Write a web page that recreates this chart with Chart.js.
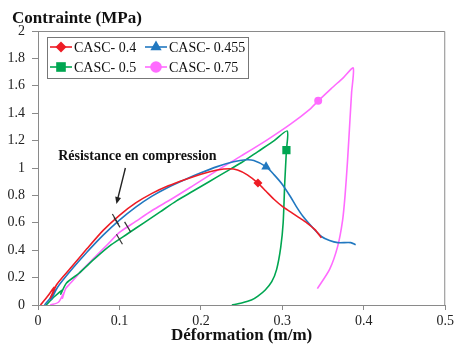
<!DOCTYPE html>
<html>
<head>
<meta charset="utf-8">
<script src="https://cdn.jsdelivr.net/npm/chart.js@4.4.1/dist/chart.umd.min.js"></script>
<style>
  html, body { margin: 0; padding: 0; background: #fff; }
  #wrap { width: 457px; height: 344px; position: relative; }
</style>
</head>
<body>
<div id="wrap"><canvas id="c"></canvas></div>
<script>
// Compression tests: stress (MPa) versus strain (m/m) for four CASC mixes
const seriesNames = ['CASC- 0.4', 'CASC- 0.455', 'CASC- 0.5', 'CASC- 0.75'];
const seriesColors = ['#EE1C25', '#2178C0', '#00A651', '#FF6BFF'];
const markerStyles = ['rectRot', 'triangle', 'rect', 'circle'];

const strain04 = [0.003, 0.012, 0.02, 0.018, 0.015, 0.017, 0.023, 0.04, 0.06, 0.08, 0.1, 0.12, 0.14, 0.16, 0.18, 0.2, 0.22, 0.235, 0.245, 0.257, 0.27, 0.28, 0.29, 0.3, 0.31, 0.32, 0.33, 0.34, 0.348];
const stress04 = [0, 0.065, 0.13, 0.09, 0.05, 0.07, 0.15, 0.27, 0.41, 0.545, 0.655, 0.745, 0.815, 0.87, 0.915, 0.955, 0.985, 0.995, 0.985, 0.95, 0.89, 0.83, 0.77, 0.72, 0.68, 0.64, 0.6, 0.55, 0.49];

const strain0455 = [0.008, 0.015, 0.021, 0.019, 0.016, 0.018, 0.024, 0.04, 0.06, 0.08, 0.1, 0.12, 0.14, 0.16, 0.18, 0.2, 0.22, 0.24, 0.255, 0.265, 0.28, 0.29, 0.3, 0.31, 0.317, 0.325, 0.338, 0.348, 0.358, 0.368, 0.384, 0.39];
const stress0455 = [0, 0.05, 0.11, 0.07, 0.04, 0.06, 0.13, 0.25, 0.385, 0.51, 0.62, 0.715, 0.795, 0.86, 0.915, 0.965, 1.01, 1.045, 1.06, 1.055, 1.01, 0.95, 0.88, 0.79, 0.72, 0.65, 0.56, 0.5, 0.47, 0.455, 0.455, 0.44];

const strain05 = [0.01, 0.02, 0.03, 0.028, 0.035, 0.05, 0.07, 0.09, 0.11, 0.13, 0.15, 0.17, 0.19, 0.21, 0.23, 0.25, 0.27, 0.29, 0.306, 0.305, 0.303, 0.301, 0.298, 0.293, 0.287, 0.279, 0.27, 0.262, 0.25, 0.238];
const stress05 = [0, 0.06, 0.11, 0.08, 0.16, 0.23, 0.34, 0.44, 0.52, 0.6, 0.68, 0.76, 0.83, 0.9, 0.97, 1.04, 1.12, 1.2, 1.27, 1.13, 0.9, 0.6, 0.42, 0.26, 0.17, 0.11, 0.065, 0.036, 0.015, 0];

const strain075 = [0.015, 0.025, 0.032, 0.03, 0.034, 0.04, 0.055, 0.07, 0.085, 0.1, 0.12, 0.14, 0.163, 0.19, 0.222, 0.25, 0.28, 0.31, 0.334, 0.344, 0.36, 0.375, 0.387, 0.385, 0.383, 0.38, 0.377, 0.374, 0.368, 0.358, 0.343];
const stress075 = [0, 0.02, 0.09, 0.05, 0.12, 0.16, 0.26, 0.35, 0.44, 0.53, 0.61, 0.69, 0.77, 0.87, 0.99, 1.09, 1.2, 1.32, 1.43, 1.49, 1.58, 1.66, 1.73, 1.55, 1.35, 1.05, 0.8, 0.62, 0.43, 0.26, 0.12];

// one highlighted marker per series
const markerStrain = [0.27, 0.28, 0.305, 0.344];
const markerStress = [0.89, 1.01, 1.13, 1.49];

// strain at which the compressive-strength tick is drawn across each curve
const strengthTickStrain = [0.095, 0.097, 0.1, 0.11];

const xTickValues = [0, 0.1, 0.2, 0.3, 0.4, 0.5];
const yTickValues = [0, 0.2, 0.4, 0.6, 0.8, 1, 1.2, 1.4, 1.6, 1.8, 2];

const strainSets = [strain04, strain0455, strain05, strain075];
const stressSets = [stress04, stress0455, stress05, stress075];

const SERIF = '"Liberation Serif", "DejaVu Serif", serif';

function zip(xs, ys) { return xs.map((x, i) => ({ x: x, y: ys[i] })); }

function stressAt(k, x) {
  const xs = strainSets[k], ys = stressSets[k];
  for (let i = 0; i < xs.length - 1; i++) {
    const a = xs[i], b = xs[i + 1];
    if ((x - a) * (x - b) <= 0 && a !== b && Math.min(a, b) > 0.03) {
      return ys[i] + (ys[i + 1] - ys[i]) * (x - a) / (b - a);
    }
  }
  return 0;
}

const datasets = [];
seriesNames.forEach((name, k) => {
  datasets.push({
    label: name,
    data: zip(strainSets[k], stressSets[k]),
    showLine: true,
    borderColor: seriesColors[k],
    backgroundColor: seriesColors[k],
    borderWidth: 1.6,
    pointRadius: 0,
    tension: 0.25,
    order: 2
  });
});
seriesNames.forEach((name, k) => {
  datasets.push({
    label: name + ' marker',
    data: [{ x: markerStrain[k], y: markerStress[k] }],
    showLine: false,
    pointStyle: markerStyles[k],
    pointRadius: [4.5, 5.5, 5.8, 4][k],
    borderWidth: 0,
    backgroundColor: seriesColors[k],
    borderColor: seriesColors[k],
    order: 1
  });
});

const decorations = {
  id: 'decorations',
  afterDatasetsDraw(chart) {
    const ctx = chart.ctx;
    const area = chart.chartArea;
    const xs = chart.scales.x, ys = chart.scales.y;

    // frame on top and right
    ctx.save();
    ctx.strokeStyle = '#8a8a8a';
    ctx.lineWidth = 1;
    ctx.beginPath();
    ctx.moveTo(area.left, area.top + 0.5);
    ctx.lineTo(area.right - 0.5, area.top + 0.5);
    ctx.lineTo(area.right - 0.5, area.bottom);
    ctx.stroke();

    // compressive strength ticks across the curves
    ctx.strokeStyle = '#333';
    ctx.lineWidth = 1.2;
    strengthTickStrain.forEach((sx, k) => {
      const px = xs.getPixelForValue(sx);
      const py = ys.getPixelForValue(stressAt(k, sx));
      ctx.beginPath();
      ctx.moveTo(px - 3, py - 5);
      ctx.lineTo(px + 3, py + 5);
      ctx.stroke();
    });

    // annotation with arrow
    ctx.fillStyle = '#111';
    ctx.font = 'bold 14px ' + SERIF;
    ctx.textAlign = 'center';
    ctx.textBaseline = 'middle';
    ctx.fillText('Résistance en compression', xs.getPixelForValue(0.122), ys.getPixelForValue(1.085));
    const ax0 = xs.getPixelForValue(0.1073), ay0 = ys.getPixelForValue(1.0);
    const ax1 = xs.getPixelForValue(0.0963), ay1 = ys.getPixelForValue(0.737);
    const ang = Math.atan2(ay1 - ay0, ax1 - ax0);
    ctx.strokeStyle = '#222';
    ctx.lineWidth = 1.4;
    ctx.beginPath();
    ctx.moveTo(ax0, ay0);
    ctx.lineTo(ax1 - 5 * Math.cos(ang), ay1 - 5 * Math.sin(ang));
    ctx.stroke();
    ctx.fillStyle = '#222';
    ctx.beginPath();
    ctx.moveTo(ax1, ay1);
    ctx.lineTo(ax1 - 7 * Math.cos(ang) + 3 * Math.sin(ang), ay1 - 7 * Math.sin(ang) - 3 * Math.cos(ang));
    ctx.lineTo(ax1 - 7 * Math.cos(ang) - 3 * Math.sin(ang), ay1 - 7 * Math.sin(ang) + 3 * Math.cos(ang));
    ctx.closePath();
    ctx.fill();

    // legend box
    const lx = area.left + 9, ly = area.top + 6;
    ctx.fillStyle = '#fff';
    ctx.fillRect(lx, ly, 201, 41);
    ctx.strokeStyle = '#777';
    ctx.lineWidth = 1;
    ctx.strokeRect(lx + 0.5, ly + 0.5, 201, 41);
    const colX = [area.left + 12, area.left + 107];
    const rowY = [area.top + 16, area.top + 36];
    const legendRadius = [5.5, 6.5, 6.8, 5.8];
    ctx.font = '14px ' + SERIF;
    ctx.textAlign = 'left';
    ctx.textBaseline = 'middle';
    seriesNames.forEach((name, k) => {
      const cx = colX[k % 2], cy = rowY[Math.floor(k / 2)];
      ctx.strokeStyle = seriesColors[k];
      ctx.lineWidth = 1.6;
      ctx.beginPath();
      ctx.moveTo(cx, cy);
      ctx.lineTo(cx + 22, cy);
      ctx.stroke();
      ctx.fillStyle = seriesColors[k];
      Chart.helpers.drawPoint(ctx, { pointStyle: markerStyles[k], radius: legendRadius[k], rotation: 0, borderWidth: 0 }, cx + 11, cy);
      ctx.fillStyle = '#111';
      ctx.fillText(name, cx + 24, cy + 1);
    });

    // axis titles
    ctx.fillStyle = '#111';
    ctx.font = 'bold 17px ' + SERIF;
    ctx.textAlign = 'left';
    ctx.textBaseline = 'alphabetic';
    ctx.fillText('Contrainte (MPa)', 12, 23);
    ctx.textAlign = 'center';
    ctx.textBaseline = 'middle';
    ctx.fillText('Déformation (m/m)', (area.left + area.right) / 2, 336);
    ctx.restore();
  }
};

new Chart(document.getElementById('c'), {
  type: 'scatter',
  data: { datasets: datasets },
  options: {
    responsive: true,
    maintainAspectRatio: false,
    animation: false,
    layout: { padding: { left: 0, top: 31, right: 9, bottom: 0 } },
    plugins: { legend: { display: false }, tooltip: { enabled: false } },
    scales: {
      x: {
        type: 'linear',
        min: 0, max: 0.5,
        afterFit(scale) { scale.height = 39; },
        afterBuildTicks(scale) { scale.ticks = xTickValues.map(v => ({ value: v })); },
        grid: { drawOnChartArea: false, tickLength: 5, color: '#8a8a8a' },
        border: { color: '#8a8a8a' },
        ticks: {
          padding: 3,
          color: '#222',
          font: { family: SERIF, size: 14 },
          callback: v => String(v)
        }
      },
      y: {
        type: 'linear',
        min: 0, max: 2,
        afterFit(scale) { scale.width = 38; },
        afterBuildTicks(scale) { scale.ticks = yTickValues.map(v => ({ value: v })); },
        grid: { drawOnChartArea: false, tickLength: 6, color: '#8a8a8a' },
        border: { color: '#8a8a8a' },
        ticks: {
          padding: 7,
          color: '#222',
          font: { family: SERIF, size: 14 },
          callback: v => String(v)
        }
      }
    }
  },
  plugins: [decorations]
});
</script>
</body>
</html>
